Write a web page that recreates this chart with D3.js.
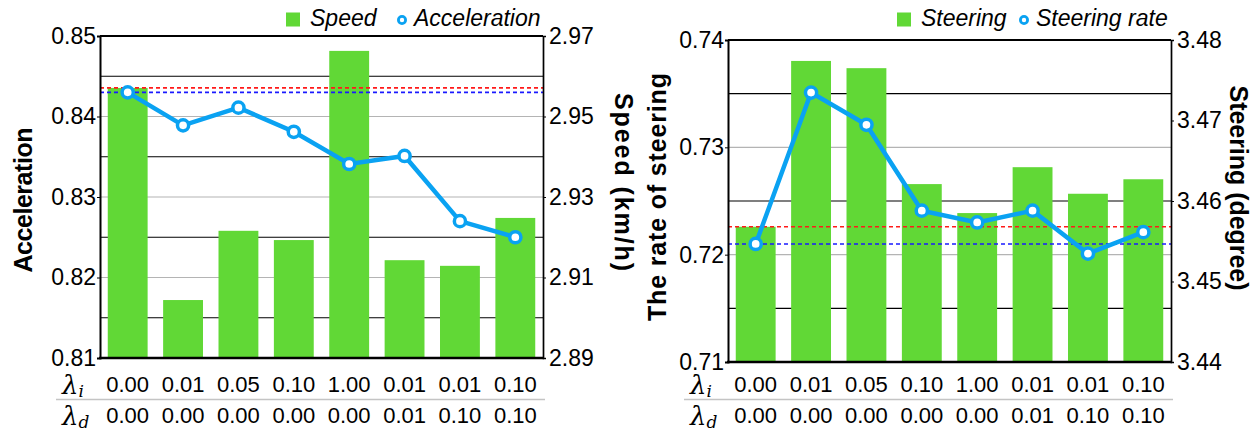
<!DOCTYPE html>
<html>
<head>
<meta charset="utf-8">
<script src="https://cdn.jsdelivr.net/npm/d3@7"></script>
<style>
  body { margin: 0; background: #fff; }
  text { font-family: "Liberation Sans", Arial, sans-serif; fill: #000; }
  text.lam { font-family: "DejaVu Serif", "Liberation Serif", serif; font-style: italic; }
</style>
</head>
<body>
<div id="chart"></div>
<script>
// categories (two rows of lambda values under the bars)
var lambdaI = ["0.00", "0.01", "0.05", "0.10", "1.00", "0.01", "0.01", "0.10"];
var lambdaD = ["0.00", "0.00", "0.00", "0.00", "0.00", "0.01", "0.10", "0.10"];

// left panel: speed bars (right axis), acceleration line (left axis)
var speed = [2.9571, 2.9044, 2.9216, 2.9193, 2.9663, 2.9143, 2.9129, 2.9248];
var acceleration = [0.8430, 0.8389, 0.8411, 0.8381, 0.8341, 0.8351, 0.8270, 0.8250];
var accTicks = [0.81, 0.82, 0.83, 0.84, 0.85];
var speedTicks = [2.89, 2.91, 2.93, 2.95, 2.97];

// right panel: steering bars (right axis), steering rate line (left axis)
var steering = [3.4568, 3.4774, 3.4765, 3.4621, 3.4585, 3.4642, 3.4609, 3.4627];
var steeringRate = [0.7210, 0.7351, 0.7321, 0.7241, 0.7230, 0.7241, 0.7201, 0.7221];
var rateTicks = [0.71, 0.72, 0.73, 0.74];
var steerTicks = [3.44, 3.45, 3.46, 3.47, 3.48];

var green = "#61d836", blue = "#0aa2f2";
var sans = "'Liberation Sans', Arial, sans-serif";

var svg = d3.select("#chart").append("svg")
    .attr("width", 1253)
    .attr("height", 429);

function drawPanel(cfg) {
    var g = svg.append("g")
        .attr("transform", "translate(" + cfg.left + "," + cfg.top + ")");
    var width = 443, height = 322;

    var x = d3.scaleBand()
        .domain(d3.range(lambdaI.length))
        .range([0, width])
        .paddingInner(0.28)
        .paddingOuter(0.14);

    var yL = d3.scaleLinear().domain(cfg.lineDomain).range([height, 0]);
    var yR = d3.scaleLinear().domain(cfg.barDomain).range([height, 0]);

    // grid: grey at the left ticks, black half way between
    var inner = cfg.lineTicks.slice(1, -1);
    var half = cfg.lineTicks.slice(0, -1).map(function(d, i) {
        return (d + cfg.lineTicks[i + 1]) / 2;
    });
    g.append("g").selectAll("line").data(inner).join("line")
        .attr("x1", 0).attr("x2", width)
        .attr("y1", function(d) { return yL(d); })
        .attr("y2", function(d) { return yL(d); })
        .attr("stroke", "#b4b4b4").attr("stroke-width", 1.2);
    g.append("g").selectAll("line").data(half).join("line")
        .attr("x1", 0).attr("x2", width)
        .attr("y1", function(d) { return yL(d); })
        .attr("y2", function(d) { return yL(d); })
        .attr("stroke", "#000").attr("stroke-width", 1.2);

    // bars
    g.append("g").selectAll("rect").data(cfg.bars).join("rect")
        .attr("x", function(d, i) { return x(i); })
        .attr("width", x.bandwidth())
        .attr("y", function(d) { return yR(d); })
        .attr("height", function(d) { return height - yR(d); })
        .attr("fill", green);

    // baselines of the first setting
    g.append("line")
        .attr("x1", 0).attr("x2", width)
        .attr("y1", yR(cfg.bars[0])).attr("y2", yR(cfg.bars[0]))
        .attr("stroke", "#ff1a1a").attr("stroke-width", 1.6)
        .style("stroke-dasharray", "4,3");
    g.append("line")
        .attr("x1", 0).attr("x2", width)
        .attr("y1", yL(cfg.line[0])).attr("y2", yL(cfg.line[0]))
        .attr("stroke", "#1a1aff").attr("stroke-width", 1.6)
        .style("stroke-dasharray", "4,3");

    // frame
    g.append("line").attr("x1", 0).attr("x2", width).attr("y1", 0).attr("y2", 0)
        .attr("stroke", "#000").attr("stroke-width", 2);

    // left axis
    g.append("g")
        .call(d3.axisLeft(yL).tickValues(cfg.lineTicks).tickFormat(d3.format(".2f")).tickSizeOuter(0).tickSize(3))
        .call(function(a) {
            a.attr("font-family", sans);
            a.select(".domain").attr("stroke-width", 2);
            a.selectAll("text").attr("font-size", "23px").attr("x", -4);
        });

    // right axis
    g.append("g")
        .attr("transform", "translate(" + width + ",0)")
        .call(d3.axisRight(yR).tickValues(cfg.barTicks).tickFormat(d3.format(".2f")).tickSizeOuter(0).tickSize(3))
        .call(function(a) {
            a.attr("font-family", sans);
            a.select(".domain").attr("stroke-width", 1.7);
            a.selectAll("text").attr("font-size", "23px").attr("x", 6);
        });

    g.append("line").attr("x1", -1).attr("x2", width + 1).attr("y1", height).attr("y2", height)
        .attr("stroke", "#000").attr("stroke-width", 2.5);

    // line series
    var line = d3.line()
        .x(function(d, i) { return x(i) + x.bandwidth() / 2; })
        .y(function(d) { return yL(d); });
    g.append("path")
        .datum(cfg.line)
        .attr("fill", "none")
        .attr("stroke", blue)
        .attr("stroke-width", 4.5)
        .attr("d", line);
    g.append("g").selectAll("circle").data(cfg.line).join("circle")
        .attr("cx", function(d, i) { return x(i) + x.bandwidth() / 2; })
        .attr("cy", function(d) { return yL(d); })
        .attr("r", 5.6)
        .attr("fill", "#fff")
        .attr("stroke", blue)
        .attr("stroke-width", 3.5);

    // axis titles
    g.append("text")
        .attr("transform", "translate(" + cfg.leftTitleX + "," + cfg.leftTitleY + ") rotate(-90)")
        .attr("text-anchor", "middle")
        .attr("font-size", "25px").attr("font-weight", "bold")
        .attr("textLength", cfg.leftTitleLen)
        .text(cfg.leftTitle);
    g.append("text")
        .attr("transform", "translate(" + cfg.rightTitleX + "," + cfg.rightTitleY + ") rotate(90)")
        .attr("text-anchor", "middle")
        .attr("font-size", "25px").attr("font-weight", "bold")
        .attr("textLength", cfg.rightTitleLen)
        .text(cfg.rightTitle);

    // legend
    var lg = g.append("g").attr("transform", "translate(" + cfg.legendX + "," + (-cfg.top) + ")");
    lg.append("rect").attr("x", 0).attr("y", 12.5).attr("width", 14).attr("height", 14).attr("fill", green);
    lg.append("text").attr("x", 24).attr("y", 26).attr("font-size", "23px").attr("font-style", "italic").text(cfg.barName);
    lg.append("circle").attr("cx", cfg.legendGap).attr("cy", 20).attr("r", 3.6)
        .attr("fill", "#fff").attr("stroke", blue).attr("stroke-width", 2.8);
    lg.append("text").attr("x", cfg.legendGap + 12).attr("y", 26).attr("font-size", "23px").attr("font-style", "italic").text(cfg.lineName);

    // lambda rows
    var rows = [{name: "i", vals: lambdaI, y: 392}, {name: "d", vals: lambdaD, y: 423}];
    rows.forEach(function(r) {
        g.append("g").selectAll("text").data(r.vals).join("text")
            .attr("x", function(d, i) { return x(i) + x.bandwidth() / 2; })
            .attr("y", r.y - cfg.top)
            .attr("text-anchor", "middle")
            .attr("font-size", "22px")
            .text(function(d) { return d; });
        var t = g.append("text")
            .attr("class", "lam")
            .attr("x", -38)
            .attr("y", r.y + 2 - cfg.top)
            .attr("font-size", "26px");
        t.append("tspan").text("\u03bb");
        t.append("tspan").attr("dy", 3).attr("font-size", "17px").text(r.name);
    });
    g.append("line")
        .attr("x1", -44).attr("x2", width + 2)
        .attr("y1", 399.5 - cfg.top).attr("y2", 399.5 - cfg.top)
        .attr("stroke", "#c4c4c4").attr("stroke-width", 1.5);
}

drawPanel({
    left: 100, top: 36,
    bars: speed, line: acceleration,
    barDomain: [2.89, 2.97], lineDomain: [0.81, 0.85],
    barTicks: speedTicks, lineTicks: accTicks,
    leftTitle: "Acceleration", leftTitleX: -68, leftTitleY: 164, leftTitleLen: 145,
    rightTitle: "Speed (km/h)", rightTitleX: 515, rightTitleY: 146, rightTitleLen: 178,
    barName: "Speed", lineName: "Acceleration", legendX: 186, legendGap: 116
});

drawPanel({
    left: 728, top: 40,
    bars: steering, line: steeringRate,
    barDomain: [3.44, 3.48], lineDomain: [0.71, 0.74],
    barTicks: steerTicks, lineTicks: rateTicks,
    leftTitle: "The rate of steering", leftTitleX: -62, leftTitleY: 157, leftTitleLen: 248,
    rightTitle: "Steering (degree)", rightTitleX: 502, rightTitleY: 148, rightTitleLen: 205,
    barName: "Steering", lineName: "Steering rate", legendX: 169, legendGap: 127
});
</script>
</body>
</html>
